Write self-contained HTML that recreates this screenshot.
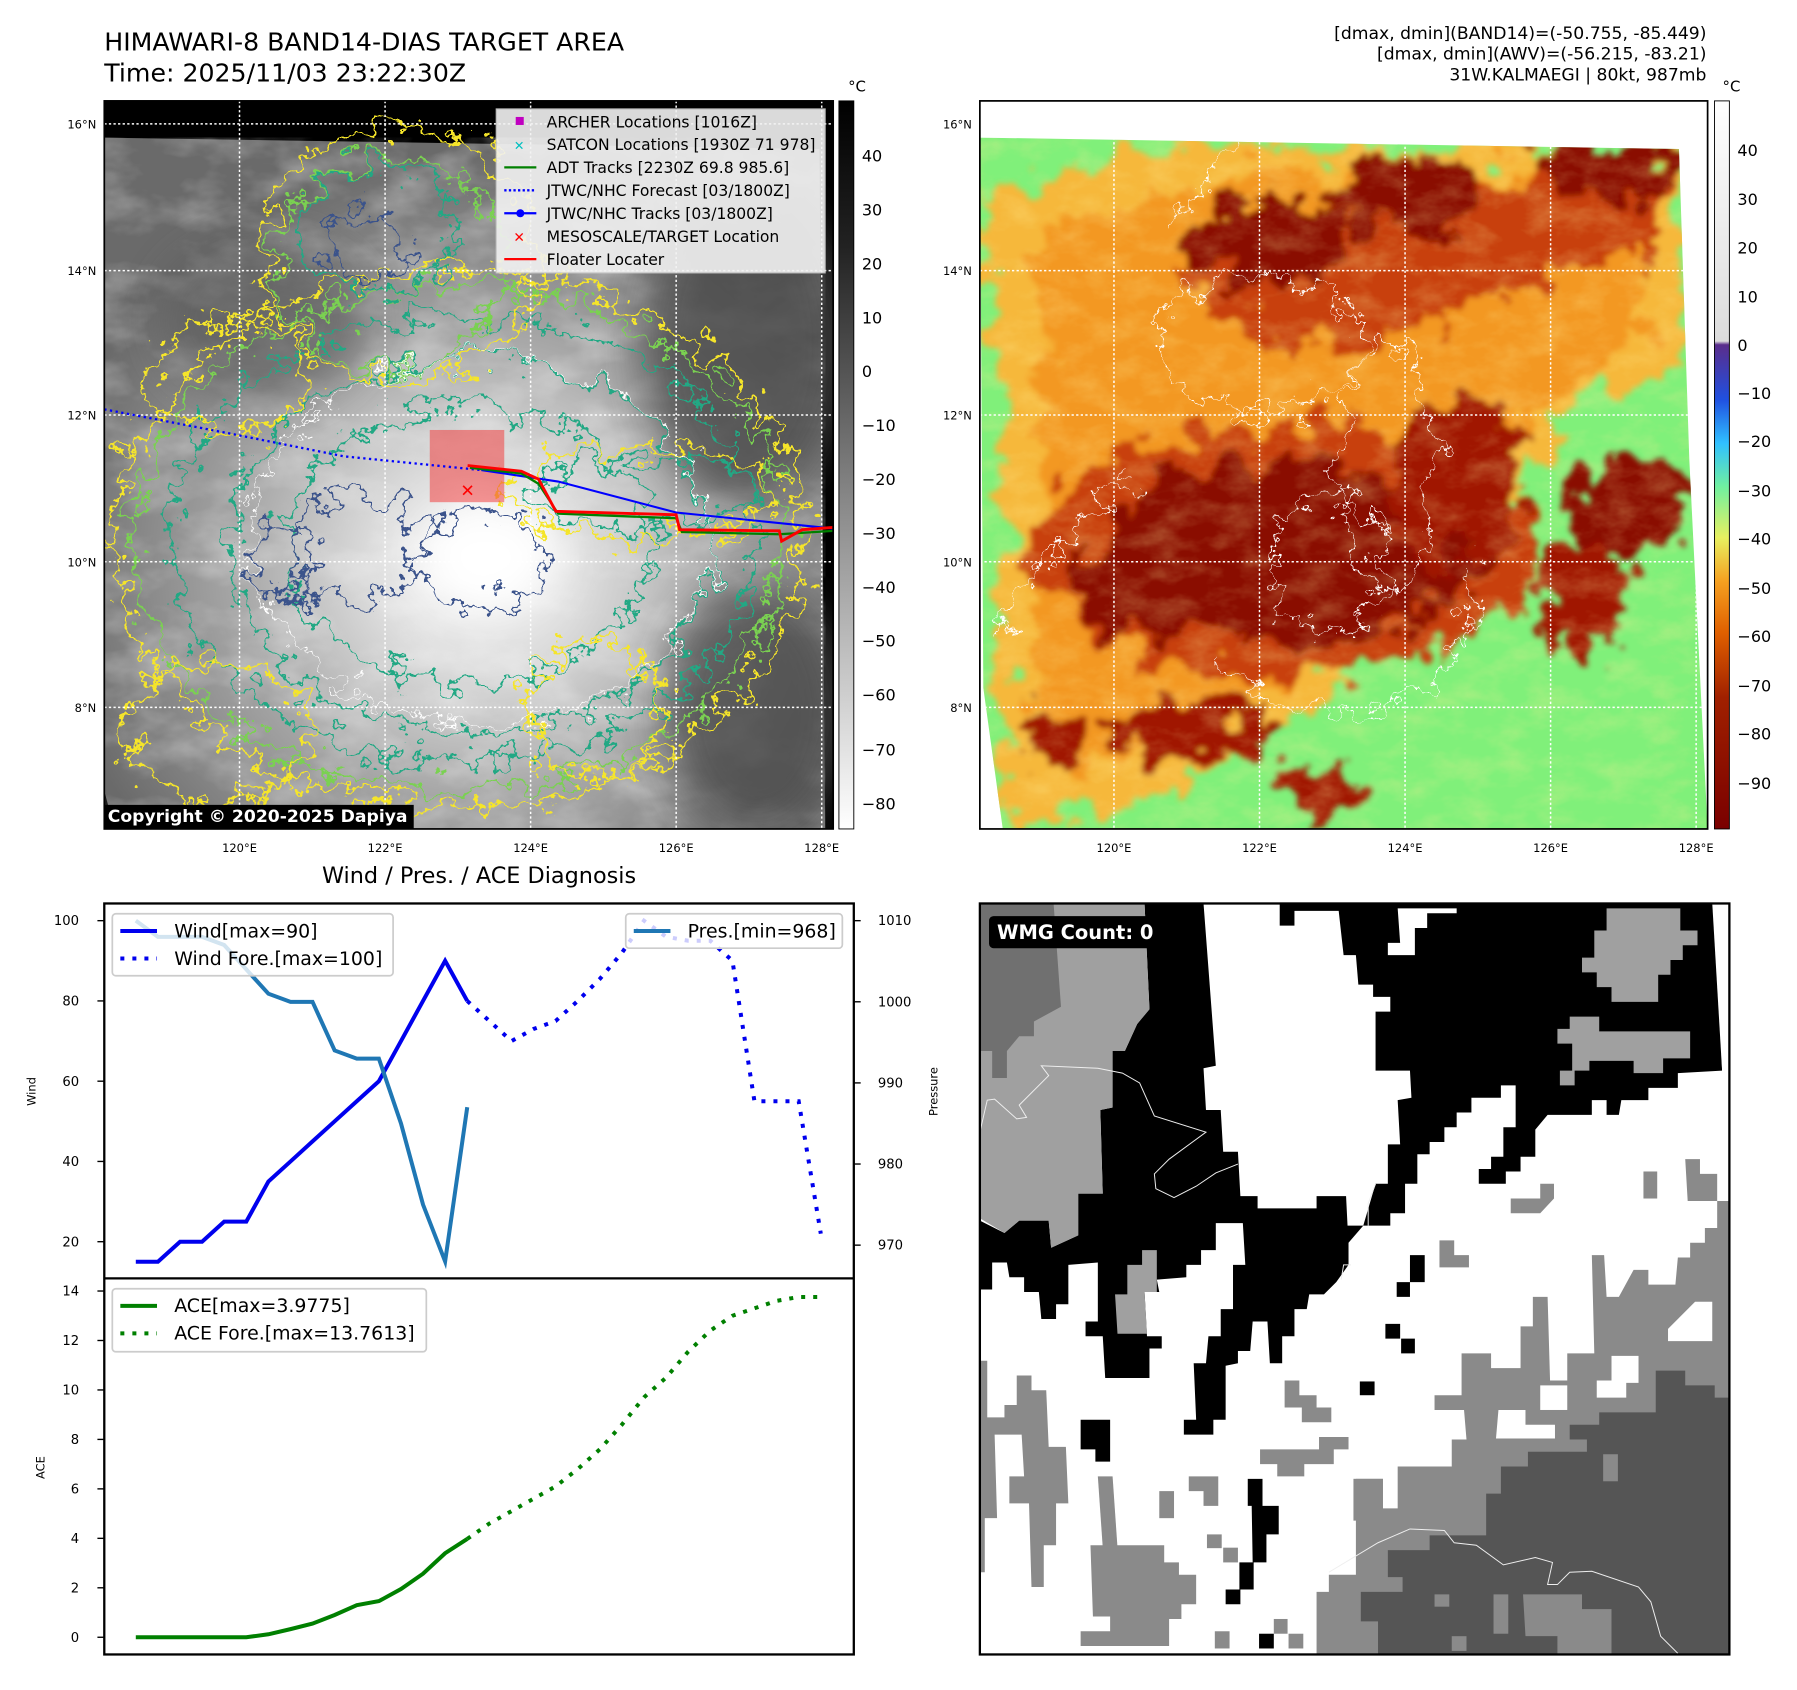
<!DOCTYPE html>
<html><head><meta charset="utf-8"><style>
html,body{margin:0;padding:0;background:#fff;}
svg{display:block;font-family:"DejaVu Sans","Liberation Sans",sans-serif;}
</style></head><body>
<svg id="root" width="1797" height="1690" viewBox="0 0 1568 1474" preserveAspectRatio="none" xmlns="http://www.w3.org/2000/svg">
<defs>
<filter id="wob" x="-10%" y="-10%" width="120%" height="120%"><feTurbulence type="fractalNoise" baseFrequency="0.05" numOctaves="4" seed="3"/><feDisplacementMap in="SourceGraphic" scale="55" xChannelSelector="R" yChannelSelector="G"/></filter>
<filter id="wob2" x="-10%" y="-10%" width="120%" height="120%"><feTurbulence type="fractalNoise" baseFrequency="0.035" numOctaves="4" seed="7"/><feDisplacementMap in="SourceGraphic" scale="70" xChannelSelector="R" yChannelSelector="G"/><feGaussianBlur stdDeviation="2.5"/></filter>
<filter id="cloud" x="0" y="0" width="100%" height="100%"><feTurbulence type="fractalNoise" baseFrequency="0.018 0.03" numOctaves="4" seed="11"/><feColorMatrix type="matrix" values="0 0 0 0 1  0 0 0 0 1  0 0 0 0 1  1.4 0 0 0 -0.55"/></filter>
<filter id="cloudY" x="0" y="0" width="100%" height="100%"><feTurbulence type="fractalNoise" baseFrequency="0.03 0.05" numOctaves="4" seed="5"/><feColorMatrix type="matrix" values="0 0 0 0 1  0 0 0 0 0.85  0 0 0 0 0.3  1.6 0 0 0 -0.65"/></filter>
<filter id="bl" x="-30%" y="-30%" width="160%" height="160%"><feGaussianBlur stdDeviation="18"/></filter>
<radialGradient id="g1" cx="0.52" cy="0.62" r="0.6"><stop offset="0" stop-color="#fafafa"/><stop offset="0.25" stop-color="#dcdcdc"/><stop offset="0.55" stop-color="#a8a8a8"/><stop offset="1" stop-color="#6a6a6a"/></radialGradient>
<linearGradient id="cb1" x1="0" y1="0" x2="0" y2="1"><stop offset="0" stop-color="#000"/><stop offset="0.2" stop-color="#222"/><stop offset="0.55" stop-color="#888"/><stop offset="1" stop-color="#fff"/></linearGradient>
<linearGradient id="cb2" x1="0" y1="0" x2="0" y2="1"><stop offset="0" stop-color="#ffffff"/><stop offset="0.33" stop-color="#dcdcdc"/><stop offset="0.335" stop-color="#5a2d8c"/><stop offset="0.41" stop-color="#2050e0"/><stop offset="0.47" stop-color="#30c0ff"/><stop offset="0.53" stop-color="#70f0a0"/><stop offset="0.6" stop-color="#e8f060"/><stop offset="0.66" stop-color="#f5a020"/><stop offset="0.73" stop-color="#e06000"/><stop offset="0.82" stop-color="#a02000"/><stop offset="1" stop-color="#7a0000"/></linearGradient>
<clipPath id="c1"><rect x="91" y="88" width="636" height="635"/></clipPath>
<clipPath id="c2"><polygon points="855,120 1465,130 1474,400 1490,723 875,723 858,600"/></clipPath>
<clipPath id="c3"><rect x="855" y="788" width="654" height="655"/></clipPath>
</defs>

<!-- Titles -->
<text x="91" y="44" font-size="22">HIMAWARI-8 BAND14-DIAS TARGET AREA</text>
<text x="91" y="71" font-size="22">Time: 2025/11/03 23:22:30Z</text>
<g font-size="15" text-anchor="end">
<text x="1489" y="34">[dmax, dmin](BAND14)=(-50.755, -85.449)</text>
<text x="1489" y="52">[dmax, dmin](AWV)=(-56.215, -83.21)</text>
<text x="1489" y="70">31W.KALMAEGI | 80kt, 987mb</text>
</g>

<!-- MAP 1 -->
<g clip-path="url(#c1)">
<rect x="91" y="88" width="636" height="635" fill="#000"/>
<polygon points="91,120 715,130 720,723 100,723 91,690" fill="url(#g1)"/>
<g clip-path="url(#c1)"><polygon points="91,120 715,130 720,723 100,723 91,690" fill="#fff" filter="url(#cloud)" opacity="0.45"/></g>
<ellipse cx="650" cy="300" rx="90" ry="140" fill="#4a4a4a" filter="url(#bl)" opacity="0.8"/>
<ellipse cx="660" cy="620" rx="80" ry="110" fill="#4a4a4a" filter="url(#bl)" opacity="0.8"/>
<ellipse cx="230" cy="280" rx="90" ry="70" fill="#555" filter="url(#bl)" opacity="0.6"/>
<ellipse cx="425" cy="485" rx="60" ry="45" fill="#fff" filter="url(#bl)"/>
<g fill="none" stroke-width="2.8" filter="url(#wob)">
<ellipse cx="400" cy="470" rx="300" ry="235" stroke="#f5e52a"/>
<ellipse cx="400" cy="470" rx="285" ry="220" stroke="#7ad151"/>
<ellipse cx="405" cy="470" rx="255" ry="195" stroke="#22a884"/>
<ellipse cx="410" cy="475" rx="210" ry="165" stroke="#22a884"/>
<ellipse cx="410" cy="475" rx="160" ry="120" stroke="#22a884"/>
<ellipse cx="420" cy="490" rx="55" ry="40" stroke="#3b528b"/>
<ellipse cx="310" cy="480" rx="60" ry="45" stroke="#3b528b"/>
<ellipse cx="250" cy="490" rx="25" ry="30" stroke="#3b528b"/>
<ellipse cx="320" cy="215" rx="35" ry="30" stroke="#3b528b"/>
<ellipse cx="330" cy="200" rx="70" ry="55" stroke="#22a884"/>
<ellipse cx="350" cy="220" rx="120" ry="110" stroke="#f5e52a"/>
<ellipse cx="340" cy="230" rx="100" ry="90" stroke="#7ad151"/>
<ellipse cx="560" cy="430" rx="120" ry="40" stroke="#f5e52a"/>
<ellipse cx="560" cy="430" rx="100" ry="30" stroke="#22a884"/>
<ellipse cx="190" cy="640" rx="80" ry="60" stroke="#f5e52a"/>
<ellipse cx="200" cy="330" rx="70" ry="50" stroke="#f5e52a"/>
<ellipse cx="520" cy="620" rx="60" ry="60" stroke="#f5e52a"/>
<ellipse cx="420" cy="470" rx="200" ry="160" stroke="#fff" stroke-width="1.2"/>
</g>
<g stroke="#fff" stroke-width="1.3" stroke-dasharray="2,2">
<line x1="91" y1="108" x2="727" y2="108"/><line x1="91" y1="236" x2="727" y2="236"/><line x1="91" y1="362" x2="727" y2="362"/><line x1="91" y1="490" x2="727" y2="490"/><line x1="91" y1="617" x2="727" y2="617"/>
<line x1="209" y1="88" x2="209" y2="723"/><line x1="336" y1="88" x2="336" y2="723"/><line x1="463" y1="88" x2="463" y2="723"/><line x1="590" y1="88" x2="590" y2="723"/><line x1="717" y1="88" x2="717" y2="723"/>
</g>
<rect x="375" y="375" width="65" height="63" fill="#f04040" opacity="0.55"/>
<polyline points="91,357 200,378 300,398 420,410" fill="none" stroke="#0000ff" stroke-width="2" stroke-dasharray="2,3"/>
<polyline points="420,410 487,420 590,447 727,461" fill="none" stroke="#0000ff" stroke-width="1.8"/>
<polyline points="410,408 455,413 470,422 487,448 590,452 595,464 680,466 727,463" fill="none" stroke="#008000" stroke-width="2"/>
<polyline points="408,406 455,411 470,418 485,446 590,449 593,462 680,463 682,472 700,462 727,460" fill="none" stroke="#ff0000" stroke-width="2.5"/>
<text x="408" y="433" font-size="15" fill="#f00" text-anchor="middle">✕</text>
<rect x="91" y="702" width="270" height="21" fill="#000"/>
<text x="94" y="717" font-size="15" font-weight="bold" fill="#fff">Copyright © 2020-2025 Dapiya</text>
</g>
<rect x="91" y="88" width="636" height="635" fill="none" stroke="#000" stroke-width="1.5"/>
<g>
<rect x="433" y="95" width="287" height="143" fill="#f2f2f2" opacity="0.9" stroke="#ccc"/>
<g font-size="13.6">
<rect x="450" y="102" width="7" height="7" fill="#c000c0"/><text x="477" y="111">ARCHER Locations [1016Z]</text>
<text x="453" y="131" fill="#00c0c0" text-anchor="middle" font-size="11">✕</text><text x="477" y="131">SATCON Locations [1930Z 71 978]</text>
<line x1="440" y1="146" x2="468" y2="146" stroke="#008000" stroke-width="2"/><text x="477" y="151">ADT Tracks [2230Z 69.8 985.6]</text>
<line x1="440" y1="166" x2="468" y2="166" stroke="#0000ff" stroke-width="2" stroke-dasharray="2,2"/><text x="477" y="171">JTWC/NHC Forecast [03/1800Z]</text>
<line x1="440" y1="186" x2="468" y2="186" stroke="#0000ff" stroke-width="2"/><circle cx="454" cy="186" r="3.5" fill="#00f"/><text x="477" y="191">JTWC/NHC Tracks [03/1800Z]</text>
<text x="453" y="211" fill="#f00" text-anchor="middle" font-size="12" font-weight="bold">✕</text><text x="477" y="211">MESOSCALE/TARGET Location</text>
<line x1="440" y1="226" x2="468" y2="226" stroke="#ff0000" stroke-width="2"/><text x="477" y="231">Floater Locater</text>
</g></g>
<g font-size="10">
<text x="84" y="112" text-anchor="end">16°N</text><text x="84" y="240" text-anchor="end">14°N</text><text x="84" y="366" text-anchor="end">12°N</text><text x="84" y="494" text-anchor="end">10°N</text><text x="84" y="621" text-anchor="end">8°N</text>
<g text-anchor="middle"><text x="209" y="743">120°E</text><text x="336" y="743">122°E</text><text x="463" y="743">124°E</text><text x="590" y="743">126°E</text><text x="717" y="743">128°E</text></g>
</g>
<g>
<rect x="732" y="88" width="13" height="635" fill="url(#cb1)" stroke="#000" stroke-width="0.8"/>
<text x="740" y="80" font-size="13">°C</text>
<g font-size="14"><text x="752" y="141">40</text><text x="752" y="188">30</text><text x="752" y="235">20</text><text x="752" y="282">10</text><text x="752" y="329">0</text><text x="752" y="376">−10</text><text x="752" y="423">−20</text><text x="752" y="470">−30</text><text x="752" y="517">−40</text><text x="752" y="564">−50</text><text x="752" y="611">−60</text><text x="752" y="659">−70</text><text x="752" y="706">−80</text></g>
</g>

<!-- MAP 2 -->
<g>
<g clip-path="url(#c2)">
<rect x="855" y="88" width="635" height="635" fill="#80f07a"/>
<g filter="url(#wob2)">
<polygon points="855,170 1000,130 1465,130 1474,330 1380,340 1330,430 1300,520 1180,580 1110,650 1000,700 880,723 870,600 880,450" fill="#f6b83a"/>
<polygon points="900,200 1100,150 1440,150 1430,300 1320,380 1300,500 1200,560 1080,620 950,680 900,600 910,380" fill="#f39820"/>
<polygon points="1020,240 1200,170 1465,140 1440,220 1300,260 1200,300 1100,300" fill="#c84008"/>
<ellipse cx="1110" cy="210" rx="70" ry="40" fill="#8a0a00"/>
<ellipse cx="1230" cy="170" rx="70" ry="35" fill="#8a0a00"/>
<ellipse cx="1400" cy="150" rx="70" ry="25" fill="#8a0a00"/>
<ellipse cx="1120" cy="480" rx="220" ry="110" fill="#c84008"/>
<ellipse cx="1130" cy="480" rx="165" ry="80" fill="#8a0a00"/>
<ellipse cx="1000" cy="510" rx="70" ry="45" fill="#8a0a00"/>
<ellipse cx="1270" cy="420" rx="60" ry="70" fill="#a01800"/>
<ellipse cx="1420" cy="440" rx="55" ry="40" fill="#8a0a00"/>
<ellipse cx="1380" cy="520" rx="40" ry="50" fill="#a01800"/>
<ellipse cx="1040" cy="640" rx="80" ry="25" fill="#a01800"/>
<ellipse cx="920" cy="640" rx="30" ry="20" fill="#a01800"/>
<ellipse cx="1150" cy="690" rx="40" ry="20" fill="#a01800"/>
</g>
<rect x="855" y="88" width="635" height="635" fill="#fff" filter="url(#cloudY)" opacity="0.35"/>
<g fill="none" stroke="#fff" stroke-width="1.3" filter="url(#wob)">
<ellipse cx="1160" cy="490" rx="50" ry="60"/>
<ellipse cx="1100" cy="300" rx="90" ry="60"/>
<ellipse cx="1210" cy="410" rx="40" ry="110"/>
<path d="M1060,580 Q1150,640 1230,610 Q1300,560 1280,490"/>
<path d="M870,550 Q930,450 990,420"/>
<path d="M1020,200 Q1060,150 1080,120"/>
</g>
<g stroke="#fff" stroke-width="1.3" stroke-dasharray="2,2">
<line x1="855" y1="108" x2="1490" y2="108"/><line x1="855" y1="236" x2="1490" y2="236"/><line x1="855" y1="362" x2="1490" y2="362"/><line x1="855" y1="490" x2="1490" y2="490"/><line x1="855" y1="617" x2="1490" y2="617"/>
<line x1="972" y1="88" x2="972" y2="723"/><line x1="1099" y1="88" x2="1099" y2="723"/><line x1="1226" y1="88" x2="1226" y2="723"/><line x1="1353" y1="88" x2="1353" y2="723"/><line x1="1480" y1="88" x2="1480" y2="723"/>
</g>
</g>
<rect x="855" y="88" width="635" height="635" fill="none" stroke="#000" stroke-width="1.5"/>
</g>
<g font-size="10">
<text x="848" y="112" text-anchor="end">16°N</text><text x="848" y="240" text-anchor="end">14°N</text><text x="848" y="366" text-anchor="end">12°N</text><text x="848" y="494" text-anchor="end">10°N</text><text x="848" y="621" text-anchor="end">8°N</text>
<g text-anchor="middle"><text x="972" y="743">120°E</text><text x="1099" y="743">122°E</text><text x="1226" y="743">124°E</text><text x="1353" y="743">126°E</text><text x="1480" y="743">128°E</text></g>
</g>
<g>
<rect x="1496" y="88" width="13" height="635" fill="url(#cb2)" stroke="#000" stroke-width="0.8"/>
<text x="1503" y="80" font-size="13">°C</text>
<g font-size="14"><text x="1516" y="136">40</text><text x="1516" y="179">30</text><text x="1516" y="221">20</text><text x="1516" y="264">10</text><text x="1516" y="306">0</text><text x="1516" y="348">−10</text><text x="1516" y="390">−20</text><text x="1516" y="433">−30</text><text x="1516" y="475">−40</text><text x="1516" y="518">−50</text><text x="1516" y="560">−60</text><text x="1516" y="603">−70</text><text x="1516" y="645">−80</text><text x="1516" y="688">−90</text></g>
</g>

<!-- WMG panel -->
<g clip-path="url(#c3)">
<rect x="855" y="788" width="654" height="655" fill="#fff"/>
<g transform="translate(855,788) scale(0.4289)">
<polygon fill="#000" points="0,645 50,670 80,645 140,645 145,700 200,675 200,590 250,590 245,420 270,415 270,300 295,300 320,245 345,215 335,0 1500,0 1510,340 1420,345 1420,375 1360,375 1360,400 1305,400 1300,430 1275,430 1275,400 1245,400 1245,430 1155,430 1130,460 1130,515 1100,515 1100,545 1070,545 1070,570 1015,570 1015,540 1040,540 1040,515 1065,515 1065,455 1090,455 1090,370 1060,370 1060,395 1000,395 1000,425 970,425 970,455 945,455 945,485 915,485 915,510 890,510 890,570 865,570 865,630 835,630 835,655 780,655 750,690 750,735 725,770 700,795 670,795 665,825 640,825 640,880 615,880 615,935 590,935 585,850 555,850 550,910 525,910 525,935 500,940 500,1050 475,1050 475,1080 415,1080 415,1050 440,1050 435,935 460,935 465,880 490,880 490,825 515,825 515,735 540,735 535,650 480,650 480,705 450,705 450,735 420,735 420,760 360,765 365,790 335,790 340,880 370,880 370,905 345,905 345,965 255,965 250,880 215,880 215,850 240,850 240,730 180,735 180,815 155,815 155,845 125,845 120,790 90,790 90,760 60,760 55,730 25,730 25,785 0,785"/>
<polygon fill="#a0a0a0" points="0,0 335,0 345,215 320,245 295,300 270,300 270,415 245,420 250,590 200,590 200,675 145,700 140,645 80,645 50,670 0,640"/>
<polygon fill="#707070" points="0,0 150,0 165,210 110,240 110,270 80,270 55,300 55,355 25,355 25,300 0,300"/>
<polygon fill="#fff" points="455,0 610,0 610,45 640,45 640,15 730,15 740,105 765,105 770,165 800,165 800,190 835,190 835,220 805,220 805,340 875,340 878,395 850,400 855,490 830,490 830,570 805,570 780,655 748,655 745,595 685,595 685,620 565,620 565,595 530,595 525,505 495,505 490,420 460,420 455,335 480,330"/>
<polygon fill="#fff" points="850,10 970,10 970,20 910,20 910,50 885,50 885,105 830,105 830,80 855,80"/>
<polygon fill="#fff" points="1490,0 1530,0 1530,345 1510,340"/>
<polygon fill="#a0a0a0" points="1275,10 1425,10 1425,55 1460,55 1460,85 1430,85 1430,115 1405,115 1405,145 1380,145 1380,200 1285,200 1285,170 1255,170 1255,140 1225,140 1225,110 1250,110 1250,55 1275,55"/>
<polygon fill="#a0a0a0" points="1200,230 1260,230 1260,260 1445,260 1445,315 1390,315 1390,345 1330,345 1330,320 1240,320 1240,340 1210,340 1210,370 1180,370 1180,340 1205,340 1205,285 1175,285 1175,255 1200,255"/>
<polygon fill="#a0a0a0" points="330,705 360,705 360,790 335,790 340,875 280,875 275,795 300,795 300,735 330,735"/>
<g fill="#000">
<polygon points="205,1050 265,1050 265,1135 235,1135 235,1110 205,1110"/>
<polygon points="875,715 905,715 905,770 875,770 875,800 848,800 848,770 875,770"/>
<polygon points="825,855 855,855 855,885 885,885 885,915 857,915 857,885 825,885"/>
<rect x="773" y="972" width="30" height="28"/>
<polygon points="545,1170 575,1170 575,1225 608,1225 608,1283 583,1283 583,1340 557,1340 557,1395 530,1395 530,1425 500,1425 500,1395 528,1395 528,1340 555,1340 553,1225 545,1225"/>
<rect x="568" y="1485" width="30" height="30"/>
</g>
<polygon fill="#8a8a8a" points="1500,605 1530,605 1530,1530 685,1530 685,1400 710,1400 710,1365 765,1365 765,1170 820,1170 820,1230 850,1230 850,1145 960,1145 960,1090 990,1090 985,1030 925,1030 925,1000 980,1000 980,915 1040,915 1040,945 1100,945 1100,860 1125,860 1125,800 1155,800 1160,970 1195,970 1195,915 1250,915 1245,715 1270,715 1275,800 1300,800 1330,745 1360,745 1360,775 1415,775 1420,720 1445,720 1445,690 1475,690 1475,660 1500,660"/>
<g fill="#fff">
<polygon points="1400,865 1455,810 1490,810 1490,890 1400,890"/>
<polygon points="1055,1030 1110,1030 1110,1060 1170,1060 1170,1088 1050,1088"/>
<rect x="1140" y="980" width="55" height="50"/>
<polygon points="1255,970 1285,970 1285,920 1340,920 1340,975 1315,975 1315,1005 1255,1005"/>
</g>
<polygon fill="#555" points="1375,950 1435,950 1435,980 1495,980 1495,1005 1530,1005 1530,1530 810,1530 810,1460 775,1460 775,1400 860,1400 860,1370 830,1370 830,1315 915,1315 915,1285 1030,1285 1030,1200 1060,1200 1060,1145 1115,1145 1115,1115 1235,1115 1235,1090 1200,1090 1200,1060 1260,1060 1260,1035 1375,1035"/>
<g fill="#8a8a8a">
<polygon points="1105,1405 1225,1405 1225,1435 1285,1435 1285,1530 1175,1530 1175,1490 1110,1490"/>
<rect x="925" y="1405" width="30" height="25"/><rect x="1045" y="1405" width="30" height="80"/><rect x="960" y="1490" width="30" height="30"/><rect x="1268" y="1120" width="30" height="55"/>
<polygon points="0,930 15,930 15,1045 50,1045 50,1020 75,1020 75,960 105,960 105,990 135,990 140,1105 175,1105 180,1220 155,1220 155,1305 130,1305 130,1390 105,1390 100,1220 60,1220 60,1165 90,1165 85,1080 30,1080 35,1250 10,1250 10,1360 0,1360"/>
<polygon points="225,1305 375,1305 375,1340 405,1340 405,1365 440,1365 440,1425 410,1425 410,1455 385,1455 385,1510 205,1510 205,1480 265,1480 265,1450 230,1450"/>
<polygon points="240,1165 270,1165 280,1310 250,1310"/>
<polygon points="570,1110 690,1110 690,1085 750,1085 750,1110 720,1110 720,1140 660,1140 660,1165 605,1165 605,1140 570,1140"/>
<polygon points="620,970 650,970 650,1000 685,1000 685,1025 715,1025 715,1055 655,1055 655,1025 620,1025"/>
<polygon points="935,685 965,685 965,715 995,715 995,740 935,740"/>
<polygon points="1080,600 1140,600 1140,570 1168,570 1168,600 1140,630 1080,630"/>
<rect x="1350" y="545" width="28" height="55"/>
<polygon points="1435,520 1465,520 1465,550 1500,550 1500,605 1440,605"/>
<rect x="365" y="1195" width="30" height="55"/>
<polygon points="425,1165 485,1165 485,1225 455,1225 455,1195 425,1195"/>
<rect x="760" y="1170" width="60" height="85"/>
<rect x="462" y="1283" width="30" height="28"/><rect x="495" y="1310" width="30" height="30"/><rect x="478" y="1480" width="30" height="35"/><rect x="598" y="1455" width="28" height="30"/><rect x="628" y="1485" width="30" height="30"/>
</g>
<g fill="none" stroke="#eee" stroke-width="2">
<path d="M0,465 L15,400 L30,398 L75,438 L95,435 L80,410 L140,350 L125,330 L240,335 L290,345 L325,365 L355,432 L460,465 L385,520 L355,550 L358,580 L395,598 L440,575 L480,548 L525,530"/>
<path d="M710,1360 L810,1300 L875,1272 L945,1275 L965,1300 L1010,1305 L1065,1345 L1130,1330 L1165,1340 L1155,1385 L1175,1385 L1200,1360 L1245,1358 L1340,1390 L1365,1420 L1385,1490 L1420,1525"/>
<path d="M805,570 L790,610 L790,655"/><path d="M755,735 L740,735 L735,765"/>
</g>
</g>
<rect x="863" y="799" width="153" height="28" rx="4" fill="#000"/>
<text x="870" y="819" font-size="17" font-weight="bold" fill="#fff">WMG Count: 0</text>
</g>
<rect x="855" y="788" width="654" height="655" fill="none" stroke="#000" stroke-width="2"/>

<!-- Diagnosis chart -->
<text x="418" y="770" font-size="19.5" text-anchor="middle">Wind / Pres. / ACE Diagnosis</text>
<g id="chart"></g>
<rect x="91" y="788" width="654" height="655" fill="none" stroke="#000" stroke-width="2"/>
<line x1="91" y1="1115" x2="745" y2="1115" stroke="#000" stroke-width="2"/>
</svg>
<script>
const windObs = [15,15,20,20,25,25,35,40,45,50,55,60,70,80,90,80];
const windFore = [80,75,70,73,75,80,85.5,92,100,96,95,95,90,55,55,55,22];
const presObs = [1010,1008,1008,1008,1007,1004,1001,1000,1000,994,993,993,985,975,968,987];
const aceObs = [0,0,0,0,0,0,0.12,0.33,0.55,0.9,1.3,1.46,1.95,2.57,3.4,3.98];
const aceFore = [3.98,4.6,5.1,5.6,6.1,6.8,7.6,8.6,9.7,10.5,11.55,12.4,13.0,13.3,13.6,13.76,13.76];
const windTicks = [20,40,60,80,100];
const presTicks = [970,980,990,1000,1010];
const aceTicks = [0,2,4,6,8,10,12,14];
const foreStart = 15;

const NS='http://www.w3.org/2000/svg';
const g=document.getElementById('chart');
function xi(i){return 118.5+i*19.28;}
function yW(v){return 803+(100-v)*3.5;}
function yP(v){return 803+(1010-v)*7.075;}
function yA(v){return 1428-v*21.57;}
function mk(tag,attrs){const e=document.createElementNS(NS,tag);for(const k in attrs)e.setAttribute(k,attrs[k]);g.appendChild(e);return e;}
function line(vals,off,yf,stroke,w,dash,name){
  const pts=vals.map((v,i)=>xi(i+off).toFixed(1)+','+yf(v).toFixed(1)).join(' ');
  const e=mk('polyline',{points:pts,fill:'none',stroke:stroke,'stroke-width':w});
  if(dash)e.setAttribute('stroke-dasharray',dash);
  
  
}
function tick(x1,x2,y,label,tx,anchor,name){
  mk('line',{x1:x1,x2:x2,y1:y,y2:y,stroke:'#000','stroke-width':1.2});
  const t=mk('text',{x:tx,y:y+4,'font-size':11.5,'text-anchor':anchor});
  t.textContent=label;
  
  
}
windTicks.forEach(v=>tick(85,91,yW(v),v,69,'end','wind-tick-label'));
presTicks.forEach(v=>tick(745,751,yP(v),v,766,'start','pressure-tick-label'));
aceTicks.forEach(v=>tick(85,91,yA(v),v,69,'end','ace-tick-label'));
let t=mk('text',{x:31,y:952,'font-size':10,'text-anchor':'middle',transform:'rotate(-90 31 952)'});t.textContent='Wind';


t=mk('text',{x:818,y:952,'font-size':10,'text-anchor':'middle',transform:'rotate(-90 818 952)'});t.textContent='Pressure';


t=mk('text',{x:39,y:1280,'font-size':10,'text-anchor':'middle',transform:'rotate(-90 39 1280)'});t.textContent='ACE';



line(windObs,0,yW,'#0000ee',3.5,null,'wind-line');
line(windFore,foreStart,yW,'#0000ee',3.5,'3.5,7','wind-forecast-line');
line(presObs,0,yP,'#1f77b4',3.5,null,'pressure-line');
line(aceObs,0,yA,'#008000',3.5,null,'ace-line');
line(aceFore,foreStart,yA,'#008000',3.5,'3.5,7','ace-forecast-line');

function legend(x,y,w,h,items,name){
  const r=mk('rect',{x:x,y:y,width:w,height:h,rx:3,fill:'#fff','fill-opacity':0.8,stroke:'#ccc','stroke-width':1.5});
  
  
  items.forEach((it,k)=>{
    const yy=y+15+k*24;
    const l=mk('line',{x1:x+7,x2:x+39,y1:yy,y2:yy,stroke:it[1],'stroke-width':3.5});
    if(it[2])l.setAttribute('stroke-dasharray','3.5,7');
    const tt=mk('text',{x:x+54,y:yy+5.5,'font-size':16.5});
    tt.textContent=it[0];
    
    
  });
}
legend(98,797,245,54,[['Wind[max=90]','#0000ee',0],['Wind Fore.[max=100]','#0000ee',1]],'wind-legend');
legend(546,797,189,30,[['Pres.[min=968]','#1f77b4',0]],'pressure-legend');
legend(98,1124,274,55,[['ACE[max=3.9775]','#008000',0],['ACE Fore.[max=13.7613]','#008000',1]],'ace-legend');
</script>
</body></html>
